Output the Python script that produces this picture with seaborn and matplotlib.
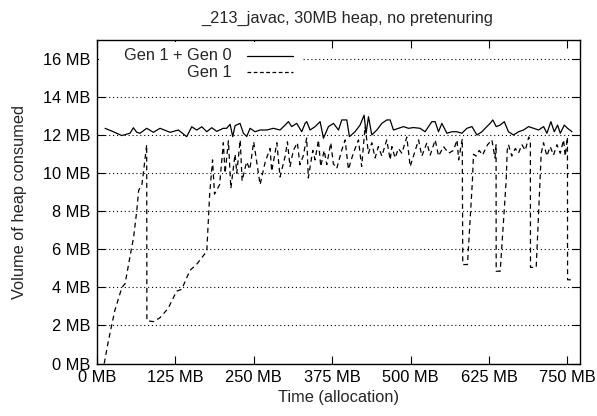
import matplotlib
matplotlib.use("Agg")
import numpy as np
import pandas as pd
import matplotlib.pyplot as plt
import seaborn as sns
from matplotlib.patches import Rectangle

# ---------- data (MB allocated, MB of heap in use) ----------
total_x = [12.8, 26.0, 39.3, 52.6, 58.0, 63.3, 68.6, 79.2, 89.9, 100.5, 116.5, 129.8,
           143.0, 151.0, 159.0, 167.0, 175.0, 182.9, 190.9, 201.4, 206.7, 212.2, 216.4,
           220.1, 228.0, 233.4, 238.7, 244.0, 252.0, 259.9, 270.6, 281.2, 291.8, 299.8,
           305.1, 310.4, 318.4, 326.4, 331.7, 334.4, 339.7, 347.7, 355.7, 361.0, 369.0,
           377.0, 385.0, 390.2, 398.2, 402.4, 411.4, 419.4, 425.8, 429.0, 432.8, 438.1,
           446.1, 454.1, 462.1, 467.3, 472.6, 480.6, 488.6, 496.6, 504.5, 515.1,
           523.1, 528.5, 533.8, 539.1, 544.4, 549.8, 557.8, 565.8, 573.7, 581.7, 589.7,
           597.7, 605.7, 613.7, 618.8, 626.8, 631.0, 636.4, 642.8, 649.3, 656.0,
           664.0, 672.0, 680.0, 688.0, 696.0, 704.0, 712.0, 717.3, 723.6, 729.0,
           734.3, 738.6, 745.0, 750.2, 757.2]
total_y = [12.36, 12.18, 11.98, 12.1, 12.39, 12.15, 12.1, 12.36, 12.15, 12.36, 12.15, 12.27,
           11.92, 12.44, 12.27, 12.44, 12.18, 12.39, 12.2, 12.36, 12.36, 12.57, 11.92,
           12.5, 12.62, 12.1, 11.93, 12.36, 12.18, 12.27, 12.27, 12.36, 12.27, 12.53,
           12.71, 12.45, 12.62, 12.18, 12.62, 12.71, 12.27, 12.45, 12.71, 11.84, 12.45,
           12.62, 12.27, 12.8, 12.8, 11.92, 12.18, 12.53, 13.05, 12.1, 12.97, 12.01,
           12.27, 12.62, 12.8, 12.8, 12.27, 12.36, 12.45, 12.36, 12.4, 12.36,
           12.18, 12.45, 12.71, 12.71, 12.18, 12.62, 12.1, 12.18, 12.18, 12.1, 12.36,
           12.45, 12.01, 12.18, 12.36, 12.62, 12.8, 12.45, 12.53, 12.71, 12.18,
           12.01, 12.18, 12.27, 12.45, 12.36, 12.27, 12.45, 12.1, 12.71, 12.18,
           12.53, 12.1, 12.53, 12.36, 12.18]

gen1_x = [11.5, 18.2, 28.5, 39.7, 44.8, 53.0, 58.2, 63.3, 66.4, 71.5, 73.5, 79.2, 79.5,
          89.9, 100.2, 113.5, 126.8, 135.0, 148.3, 158.6, 175.0, 179.6, 184.2, 187.3,
          195.5, 201.4, 204.2, 209.5, 213.4, 220.1, 222.8, 228.3, 231.3, 238.5, 243.6,
          249.8, 260.0, 268.2, 275.9, 278.5, 286.7, 291.8, 300.0, 303.6, 307.7, 313.0,
          319.4, 323.5, 328.7, 334.3, 336.9, 344.0, 347.7, 353.0, 356.7, 362.1, 366.3,
          372.7, 376.8, 382.2, 390.1, 395.6, 400.8, 408.6, 416.8, 421.9, 427.4, 432.8,
          438.1, 443.4, 448.5, 454.1, 461.9, 467.4, 470.1, 475.2, 480.6, 486.0, 493.9,
          499.3, 507.3, 512.6, 517.9, 525.9, 531.2, 539.2, 544.5, 552.5, 560.5, 568.4,
          573.9, 576.6, 582.3, 583.1, 590.6, 598.5, 600.2, 604.3, 609.4, 614.5, 622.7,
          629.5, 634.5, 636.2, 636.4, 642.8, 652.3, 654.0, 656.0, 661.3, 666.8, 671.9,
          677.4, 682.8, 688.3, 690.9, 691.1, 700.2, 706.2, 708.2, 711.9, 717.2, 722.5,
          727.8, 733.2, 738.5, 743.8, 746.5, 750.0, 750.2, 758.7]
gen1_y = [0.0, 1.2, 2.8, 4.0, 4.2, 5.7, 6.6, 8.0, 9.1, 9.4, 9.9, 11.5, 2.25, 2.2, 2.4, 2.9, 3.8,
          3.9, 4.9, 5.2, 5.9, 8.9, 10.7, 8.9, 9.4, 11.6, 10.0, 11.7, 9.2, 11.0,
          10.0, 11.75, 9.6, 10.6, 10.2, 11.65, 9.4, 10.6, 11.3, 10.1, 11.6, 9.8, 10.9, 11.65,
          10.35, 11.2, 11.6, 10.45, 10.9, 11.85, 9.75, 11.2, 10.7, 11.75, 10.35, 11.2,
          10.45, 11.6, 10.5, 10.25, 11.2, 11.75, 10.2, 11.05, 11.75, 10.35, 12.45, 11.05,
          11.6, 10.8, 11.4, 10.9, 11.75, 10.7, 11.4, 10.8, 11.3, 11.05, 11.9, 10.35,
          11.2, 11.75, 10.9, 11.6, 10.95, 11.75, 10.9, 11.4, 11.05, 11.2, 11.75,
          10.7, 11.8, 5.2, 5.2, 9.6, 11.0, 10.9, 11.2, 10.95, 11.5, 11.75, 10.8,
          11.5, 4.85, 4.85, 9.6, 11.2, 11.5, 10.9, 11.3, 11.05, 11.5, 11.2,
          11.9, 11.6, 5.05, 5.05, 9.6, 11.05, 11.6, 10.9, 11.4, 10.95, 11.5,
          11.05, 11.75, 10.9, 11.9, 4.4, 4.4]

x_ticks = [0, 125, 250, 375, 500, 625, 750]
y_ticks = [0, 2, 4, 6, 8, 10, 12, 14, 16]
series_names = ["Gen 1 + Gen 0", "Gen 1"]

total_df = pd.DataFrame({"alloc": total_x, "heap": total_y})
gen1_df = pd.DataFrame({"alloc": gen1_x, "heap": gen1_y})

# ---------- style ----------
sns.set_style("ticks")
plt.rcParams["font.family"] = ["Liberation Sans", "DejaVu Sans"]
FS = 11.8

fig = plt.figure(figsize=(5.97, 4.16), dpi=100)
ax = fig.add_axes([0.1625, 0.1262, 0.809, 0.7776])

sns.lineplot(data=total_df, x="alloc", y="heap", ax=ax, sort=False, estimator=None,
             color="black", lw=0.9, legend=False)
sns.lineplot(data=gen1_df, x="alloc", y="heap", ax=ax, sort=False, estimator=None,
             color="black", lw=0.9, legend=False)
ax.lines[1].set_dashes((4, 3))

ax.set_xlim(0, 770)
ax.set_ylim(0, 17)
ax.set_xticks(x_ticks)
ax.set_xticklabels([f"{v} MB" for v in x_ticks])
ax.set_yticks(y_ticks)
ax.set_yticklabels([f"{v} MB" for v in y_ticks])
ax.tick_params(direction="in", length=6, width=0.8, top=True, right=True,
               labelsize=FS, colors="black", pad=5)
ax.yaxis.grid(True, color="black", linestyle=(0, (1, 2.5)), lw=0.8)
for sp in ax.spines.values():
    sp.set_color("black")
    sp.set_linewidth(1.0)

ax.set_xlabel("Time (allocation)", fontsize=FS, labelpad=3)
ax.set_ylabel("Volume of heap consumed", fontsize=FS, labelpad=11)
ax.set_title("_213_javac, 30MB heap, no pretenuring", fontsize=FS, pad=12, x=0.518)

# gnuplot-style key: white box over the grid, right-aligned text, sample after it
ax.add_patch(Rectangle((0.004, 0.86), 0.42, 0.135, transform=ax.transAxes,
                       facecolor="white", edgecolor="none", zorder=2.5))
key_rows = [(0.9515, (None, None)), (0.9002, (3, 2))]
for name, (ky, dash) in zip(series_names, key_rows):
    ax.text(0.2789, ky, name, transform=ax.transAxes, ha="right", va="center",
            fontsize=FS, zorder=3)
    ln, = ax.plot([0.3106, 0.4058], [ky, ky], transform=ax.transAxes,
                  color="black", lw=0.9, zorder=3)
    if dash[0]:
        ln.set_dashes(dash)

fig.savefig("out.png", dpi=100)
